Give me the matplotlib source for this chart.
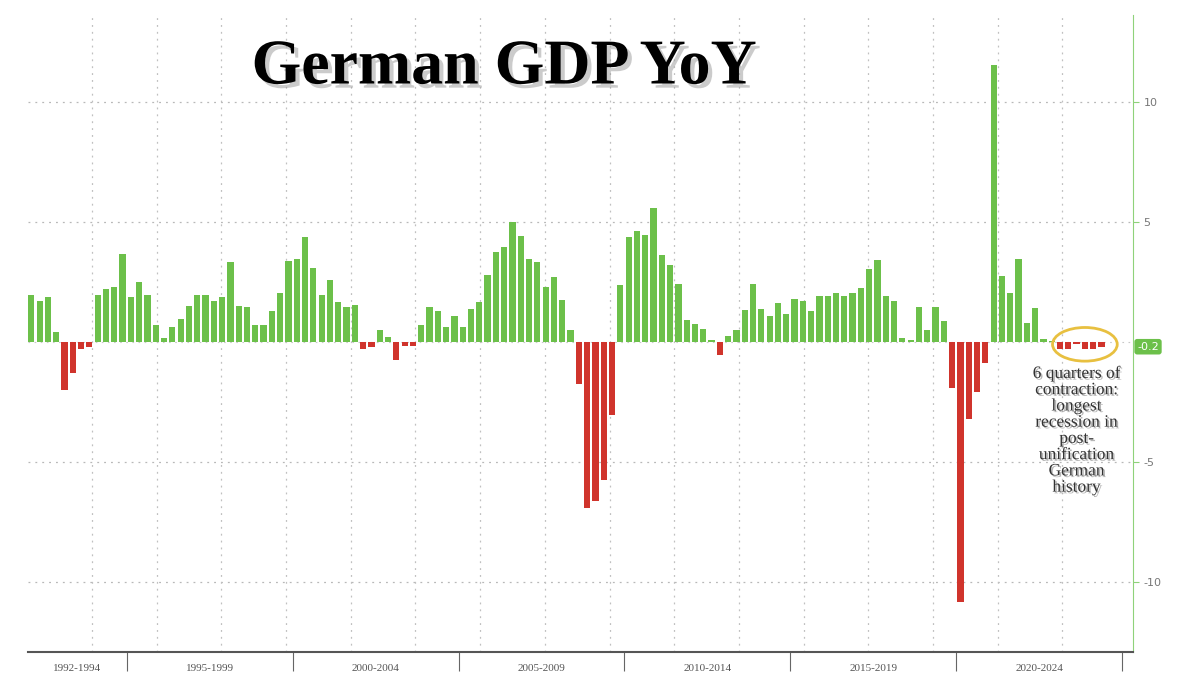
import matplotlib.pyplot as plt
import matplotlib.patheffects as pe
from matplotlib.patches import Ellipse

# quarterly German GDP YoY %, 1992Q1 .. 2024Q2
gdp_yoy = [
    1.94, 1.7, 1.85, 0.4, -2.0, -1.3, -0.3, -0.2,
    1.94, 2.2, 2.3, 3.65, 1.85, 2.5, 1.97, 0.7, 0.15, 0.6, 0.97, 1.5,
    1.97, 1.97, 1.7, 1.85, 3.33, 1.5, 1.45, 0.7, 0.7, 1.28, 2.04, 3.36,
    3.47, 4.35, 3.08, 1.94, 2.57, 1.64, 1.45, 1.55,
    -0.28, -0.2, 0.5, 0.2, -0.76, -0.18, -0.18,
    0.7, 1.45, 1.28, 0.6, 1.08, 0.6, 1.36, 1.64, 2.8, 3.75, 3.93, 4.97,
    4.42, 3.47, 3.33, 2.3, 2.7, 1.74, 0.5,
    -1.77, -6.93, -6.63, -5.73, -3.04,
    2.35, 4.37, 4.63, 4.45, 5.57, 3.6, 3.22, 2.43, 0.93, 0.75, 0.55, 0.1,
    -0.54,
    0.25, 0.5, 1.33, 2.4, 1.38, 1.08, 1.63, 1.18, 1.78, 1.72, 1.27, 1.9,
    1.9, 2.02, 1.9, 2.05, 2.23, 3.02, 3.4, 1.93, 1.72, 0.18, 0.1, 1.45,
    0.5, 1.45, 0.85,
    -1.92, -10.8, -3.19, -2.1, -0.87,
    11.5, 2.75, 2.05, 3.43, 0.78, 1.4, 0.13, 0.03,
    -0.3, -0.3, -0.1, -0.3, -0.3, -0.2,
]
period_labels = ["1992-1994", "1995-1999", "2000-2004", "2005-2009",
                 "2010-2014", "2015-2019", "2020-2024"]
period_start = [0, 12, 32, 52, 72, 92, 112]  # quarter index where each period begins
period_end = [12, 32, 52, 72, 92, 112, 132]
last_value = -0.2

green = "#6cc04a"
red = "#d0342c"

fig = plt.figure(figsize=(12, 6.85), dpi=100)
ax = fig.add_axes([28 / 1200, 33 / 685, 1105 / 1200, 637 / 685])

x = list(range(len(gdp_yoy)))
colors = [green if v >= 0 else red for v in gdp_yoy]
ax.bar(x, gdp_yoy, width=0.75, color=colors, zorder=3)

ax.set_xlim(-0.4, len(gdp_yoy) + 2.8)
ax.set_ylim(-12.9, 13.6)

# grid
for y in (-10, -5, 5, 10):
    ax.axhline(y, color="#b8b8b8", lw=0.9, ls=(0, (1.5, 4)), zorder=1)
ax.axhline(0, color="#c8c8c8", lw=0.8, ls=(0, (1.5, 4)), zorder=1)
gx = 7.3
while gx < len(gdp_yoy) + 2:
    ax.axvline(gx, color="#c0c0c0", lw=0.9, ls=(0, (1.5, 4)), zorder=1)
    gx += 7.8

# axes styling
for s in ("top", "left"):
    ax.spines[s].set_visible(False)
ax.spines["right"].set_color("#8fd27a")
ax.spines["bottom"].set_color("#555555")
ax.spines["bottom"].set_linewidth(1.5)
ax.yaxis.tick_right()
ax.set_yticks([-10, -5, 5, 10])
ax.set_yticklabels(["-10", "-5", "5", "10"])
ax.tick_params(axis="y", colors="#8fd27a", labelcolor="#777777", labelsize=8, length=4)

ax.set_xticks([s - 0.5 for s in period_start[1:]] + [period_end[-1] - 0.5])
ax.set_xticklabels([])
ax.tick_params(axis="x", length=14, direction="out", color="#666666")
for lab, s, e in zip(period_labels, period_start, period_end):
    ax.text((s + e) / 2 - 0.5, -13.4, lab, ha="center", va="top",
            fontsize=8, color="#555555", family="Liberation Serif")

# last value tag
ax.text(len(gdp_yoy) + 3.3, last_value, f"{last_value}", ha="left", va="center",
        fontsize=8, color="white",
        bbox=dict(boxstyle="round,pad=0.25", fc=green, ec="none"), clip_on=False)

# highlight ellipse + annotation
ax.add_patch(Ellipse((len(gdp_yoy) - 3.0, -0.1), 7.8, 1.4, fill=False,
                     ec="#e8c040", lw=2, zorder=4))
ax.text(len(gdp_yoy) - 4.0, -1.0,
        "6 quarters of\ncontraction:\nlongest\nrecession in\npost-\nunification\nGerman\nhistory",
        ha="center", va="top", fontsize=12.5, color="#333333", family="Liberation Serif",
        linespacing=1.02,
        path_effects=[pe.withSimplePatchShadow(offset=(1.2, -1.2), alpha=0.3)])

# title
fig.text(0.42, 0.9, "German GDP YoY", ha="center", va="center",
         fontsize=46, fontweight="bold", family="Liberation Serif", color="black",
         path_effects=[pe.withSimplePatchShadow(offset=(3, -3), shadow_rgbFace="#999999", alpha=0.5)])

fig.savefig("out.png", dpi=100)
